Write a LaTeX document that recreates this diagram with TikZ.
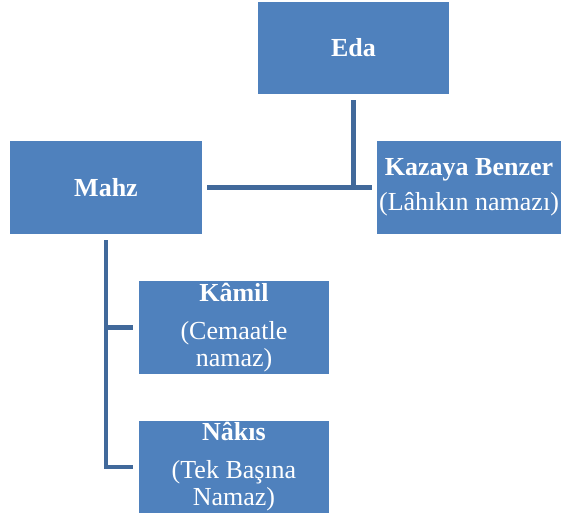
\documentclass[tikz,border=0pt]{standalone}
\usepackage{fontspec}
\setmainfont{Liberation Serif}
\definecolor{boxblue}{HTML}{4F81BD}
\definecolor{lineblue}{HTML}{41699B}
\begin{document}
\begin{tikzpicture}[x=1pt,y=-1pt,
  box/.style={rectangle, fill=boxblue, draw=none, text=white, inner sep=0pt,
    align=center, font=\fontsize{26}{27}\selectfont},
  conn/.style={draw=lineblue, line width=4.5pt}]
\useasboundingbox (0,0) rectangle (561,515);
\node[box, minimum width=191pt, minimum height=92pt] (eda) at (353.5,48) {\textbf{Eda}};
\node[box, minimum width=192pt, minimum height=93pt] (mahz) at (106,187.5) {\textbf{Mahz}};
\node[box, minimum width=184pt, minimum height=93pt] (kazaya) at (469,187.5) {\textbf{Kazaya Benzer}\\[8pt](Lâhıkın namazı)};
\node[box, minimum width=190pt, minimum height=93pt] (kamil) at (234,327.5) {\textbf{Kâmil}\\[11pt](Cemaatle\\namaz)};
\node[box, minimum width=190pt, minimum height=92pt] (nakis) at (234,467) {\textbf{Nâkıs}\\[11pt](Tek Başına\\Namaz)};
\coordinate (join) at (eda.south |- mahz.east);
\draw[conn] ([yshift=-6pt]eda.south) -- ([yshift=2pt]join);
\draw[conn] ([xshift=5pt]mahz.east) -- ([xshift=-5pt]kazaya.west);
\draw[conn] ([yshift=-6pt]mahz.south) -- (mahz.south |- nakis.west) -- ([xshift=-6pt]nakis.west);
\draw[conn] (mahz.south |- kamil.west) -- ([xshift=-6pt]kamil.west);
\end{tikzpicture}
\end{document}
